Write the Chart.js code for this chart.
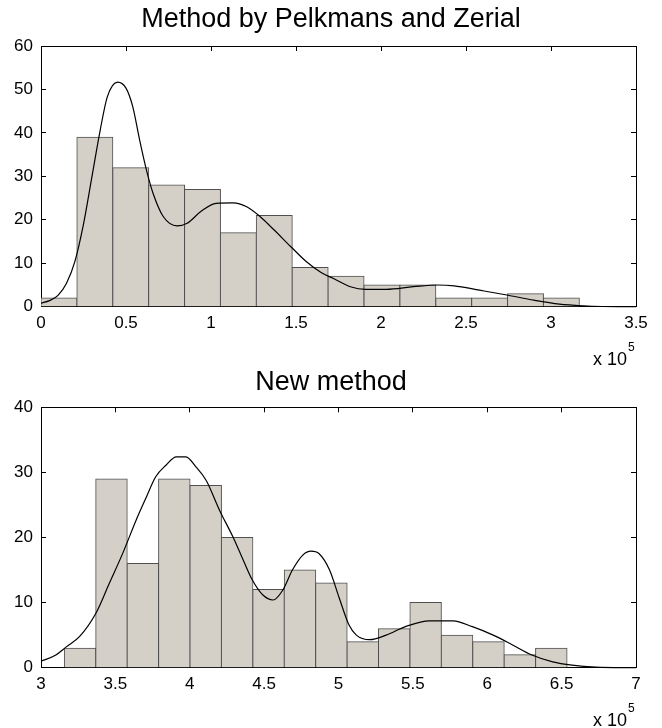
<!DOCTYPE html>
<html>
<head>
<meta charset="utf-8">
<title>Histograms</title>
<script src="https://cdn.jsdelivr.net/npm/chart.js"></script>
<style>
  html, body { margin: 0; padding: 0; background: #fff; }
  canvas { display: block; }
</style>
</head>
<body>
<canvas id="topChart" width="662" height="370"></canvas>
<canvas id="bottomChart" width="662" height="358"></canvas>
<script>
// top panel: Pelkmans and Zerial
var topTitle = 'Method by Pelkmans and Zerial';
var topBinCenters = [0.1056, 0.3167, 0.5278, 0.7389, 0.9500, 1.1611, 1.3722, 1.5833,
                     1.7944, 2.0056, 2.2167, 2.4278, 2.6389, 2.8500, 3.0611];
var topCounts = [2, 39, 32, 28, 27, 17, 21, 9, 7, 5, 5, 2, 2, 3, 2];
var topCurveX = [0, 0.05, 0.1, 0.15, 0.2, 0.25, 0.3, 0.35, 0.39, 0.45, 0.5, 0.54, 0.58, 0.62,
                 0.66, 0.72, 0.8, 0.86, 0.94, 1.03, 1.13, 1.21, 1.29, 1.37, 1.47, 1.56, 1.65,
                 1.72, 1.82, 1.91, 2.03, 2.19, 2.33, 2.43, 2.58, 2.74, 2.9, 3.05, 3.19, 3.3, 3.5];
var topCurveY = [0.8, 1.4, 2.6, 5.4, 10.5, 19, 30, 41, 48.3, 51.7, 50.3, 46, 38.4, 31.5,
                 26, 20.7, 18.6, 19.2, 21.9, 23.8, 23.9, 23, 20.7, 17.7, 13.8, 10.4, 7.8,
                 6.5, 4.6, 4.0, 4.0, 4.6, 5.0, 4.8, 3.8, 2.7, 1.5, 0.6, 0.2, 0.05, 0];
var topXTicks = [0, 0.5, 1, 1.5, 2, 2.5, 3, 3.5];
var topYTicks = [0, 10, 20, 30, 40, 50, 60];

// bottom panel: new method
var botTitle = 'New method';
var botBinCenters = [3.2626, 3.4738, 3.6850, 3.8962, 4.1074, 4.3186, 4.5298, 4.7410,
                     4.9522, 5.1634, 5.3746, 5.5858, 5.7970, 6.0082, 6.2194, 6.4306];
var botCounts = [3, 29, 16, 29, 28, 20, 12, 15, 13, 4, 6, 10, 5, 4, 2, 3];
var botCurveX = [3.0, 3.1, 3.17, 3.26, 3.37, 3.46, 3.55, 3.64, 3.71, 3.77, 3.84, 3.91, 3.975,
                 4.04, 4.11, 4.2, 4.29, 4.36, 4.42, 4.49, 4.56, 4.625, 4.69, 4.76, 4.815, 4.87,
                 4.94, 5.005, 5.07, 5.12, 5.21, 5.32, 5.45, 5.61, 5.77, 5.9, 6.04, 6.17, 6.3,
                 6.44, 6.57, 6.73, 7.0];
var botCurveY = [1.0, 1.95, 3.2, 4.8, 8.4, 13, 17.6, 22.7, 26.3, 29.3, 31.1, 32.4, 32.4,
                 30.9, 28.8, 24.2, 20.1, 16.5, 13.5, 11.2, 10.4, 11.9, 15.0, 17.3, 17.9, 17.5,
                 15.0, 10.7, 6.6, 5.0, 4.3, 5.0, 6.3, 7.2, 7.2, 6.3, 5.0, 3.5, 1.95,
                 0.9, 0.4, 0.1, 0];
var botXTicks = [3, 3.5, 4, 4.5, 5, 5.5, 6, 6.5, 7];
var botYTicks = [0, 10, 20, 30, 40];

// "x 10^5" under both x axes
var expBase = 'x 10';
var expPower = '5';

var FONT = '"Liberation Sans", Arial, sans-serif';
var BAR_FILL = 'rgb(212, 208, 200)';
var BAR_EDGE = 'rgb(80, 80, 80)';

function pairs(xs, ys) {
    return xs.map(function (x, i) { return {x: x, y: ys[i]}; });
}

function fixTicks(values) {
    return function (scale) {
        scale.ticks = values.map(function (v) { return {value: v}; });
    };
}
function fixWidth(w) { return function (scale) { scale.width = w; }; }
function fixHeight(h) { return function (scale) { scale.height = h; }; }

// matlab style: small tick marks pointing into the box
function inwardGrid() {
    return {display: true, drawOnChartArea: false, drawTicks: true,
            tickLength: -5, tickColor: '#000', offset: false};
}

var exponentLabel = {
    id: 'exponentLabel',
    afterDraw: function (chart) {
        var ctx = chart.ctx, area = chart.chartArea;
        var y = area.bottom + 58;
        ctx.save();
        ctx.fillStyle = '#000';
        ctx.textBaseline = 'alphabetic';
        ctx.font = '18px ' + FONT;
        ctx.textAlign = 'right';
        ctx.fillText(expBase, area.right - 9, y);
        ctx.font = '12px ' + FONT;
        ctx.textAlign = 'left';
        ctx.fillText(expPower, area.right - 8, y - 14);
        ctx.restore();
    }
};

function makeChart(canvasId, p) {
    var xMin = p.xTicks[0], xMax = p.xTicks[p.xTicks.length - 1];
    var yMin = p.yTicks[0], yMax = p.yTicks[p.yTicks.length - 1];
    var tickFont = {family: FONT, size: 17};
    var label = function (v) { return String(v); };

    return new Chart(document.getElementById(canvasId), {
        type: 'bar',
        data: {
            datasets: [{
                type: 'line',
                data: pairs(p.curveX, p.curveY),
                borderColor: '#000',
                borderWidth: 1.2,
                pointRadius: 0,
                fill: false,
                cubicInterpolationMode: 'monotone',
                clip: false,
                order: 0
            }, {
                type: 'bar',
                data: pairs(p.binCenters, p.counts),
                backgroundColor: BAR_FILL,
                borderColor: BAR_EDGE,
                borderWidth: 1,
                inflateAmount: 0.5,
                barPercentage: 1,
                categoryPercentage: 1,
                order: 1
            }]
        },
        options: {
            responsive: false,
            animation: false,
            layout: {padding: 0},
            plugins: {
                legend: {display: false},
                tooltip: {enabled: false},
                title: {
                    display: true,
                    text: p.title,
                    color: '#000',
                    font: {family: FONT, size: 27, weight: 'normal', lineHeight: 0.8},
                    padding: p.titlePad
                }
            },
            scales: {
                x: {
                    type: 'linear', position: 'bottom', min: xMin, max: xMax, offset: false,
                    grid: inwardGrid(), border: {color: '#000'},
                    ticks: {font: tickFont, color: '#000', padding: 11.7, maxRotation: 0,
                            autoSkip: false, callback: label},
                    afterBuildTicks: fixTicks(p.xTicks),
                    afterFit: fixHeight(p.xAxisHeight)
                },
                x2: {
                    type: 'linear', position: 'top', min: xMin, max: xMax, offset: false,
                    grid: inwardGrid(), border: {color: '#000'},
                    ticks: {display: false},
                    afterBuildTicks: fixTicks(p.xTicks),
                    afterFit: fixHeight(0)
                },
                y: {
                    type: 'linear', position: 'left', min: yMin, max: yMax,
                    grid: inwardGrid(), border: {color: '#000'},
                    ticks: {font: tickFont, color: '#000', padding: 13, callback: label},
                    afterBuildTicks: fixTicks(p.yTicks),
                    afterFit: fixWidth(41)
                },
                y2: {
                    type: 'linear', position: 'right', min: yMin, max: yMax,
                    grid: inwardGrid(), border: {color: '#000'},
                    ticks: {display: false},
                    afterBuildTicks: fixTicks(p.yTicks),
                    afterFit: fixWidth(26)
                }
            }
        },
        plugins: [exponentLabel]
    });
}

makeChart('topChart', {
    title: topTitle, binCenters: topBinCenters, counts: topCounts,
    curveX: topCurveX, curveY: topCurveY, xTicks: topXTicks, yTicks: topYTicks,
    titlePad: {top: 9, bottom: 15.4}, xAxisHeight: 63.3
});
makeChart('bottomChart', {
    title: botTitle, binCenters: botBinCenters, counts: botCounts,
    curveX: botCurveX, curveY: botCurveY, xTicks: botXTicks, yTicks: botYTicks,
    titlePad: {top: 1.7, bottom: 14}, xAxisHeight: 60.3
});
</script>
</body>
</html>
